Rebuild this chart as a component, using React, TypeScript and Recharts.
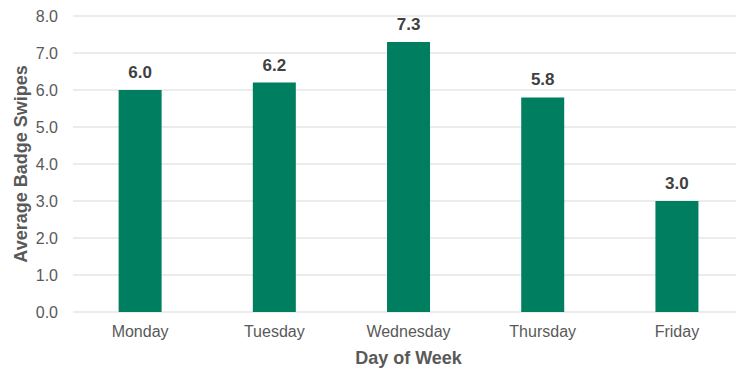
import { BarChart, Bar, XAxis, YAxis, CartesianGrid, LabelList } from "recharts"

const days = ["Monday", "Tuesday", "Wednesday", "Thursday", "Friday"]
const avgSwipes = [6.0, 6.2, 7.3, 5.8, 3.0]
const yTicks = [0, 1, 2, 3, 4, 5, 6, 7, 8]

const data = days.map((day, i) => ({ day, swipes: avgSwipes[i] }))

const FONT = "'Liberation Sans', Arial, sans-serif"

export default function App() {
  // plot area runs a little past the right edge, so clip the wrapper
  return (
    <div
      style={{
        position: "absolute",
        left: 0,
        top: 0,
        width: 736,
        height: 370,
        overflow: "hidden",
        fontFamily: FONT,
      }}
    >
      <BarChart
        width={744}
        height={370}
        data={data}
        margin={{ top: 16, right: 0, left: 0, bottom: 0 }}
        barCategoryGap="34%"
      >
        <CartesianGrid vertical={false} stroke="#d9d9d9" strokeWidth={1} />
        <XAxis
          dataKey="day"
          height={58}
          axisLine={false}
          tickLine={false}
          tickMargin={8}
          tick={{ fontSize: 16, fill: "#595959", fontFamily: FONT }}
          label={{
            value: "Day of Week",
            position: "center",
            dy: 17,
            style: { fontSize: 18, fontWeight: 700, fill: "#595959", fontFamily: FONT },
          }}
        />
        <YAxis
          width={73}
          domain={[0, 8]}
          ticks={yTicks}
          axisLine={false}
          tickLine={false}
          tickMargin={9}
          tickFormatter={(v: number) => v.toFixed(1)}
          tick={{ fontSize: 16, fill: "#595959", fontFamily: FONT }}
          label={{
            value: "Average Badge Swipes",
            angle: -90,
            position: "center",
            dx: -16,
            style: { fontSize: 18, fontWeight: 700, fill: "#595959", fontFamily: FONT },
          }}
        />
        <Bar dataKey="swipes" fill="#007e60" isAnimationActive={false}>
          <LabelList
            dataKey="swipes"
            position="top"
            offset={12}
            formatter={(v: number) => v.toFixed(1)}
            style={{ fontSize: 17, fontWeight: 700, fill: "#404040", fontFamily: FONT }}
          />
        </Bar>
      </BarChart>
    </div>
  )
}
